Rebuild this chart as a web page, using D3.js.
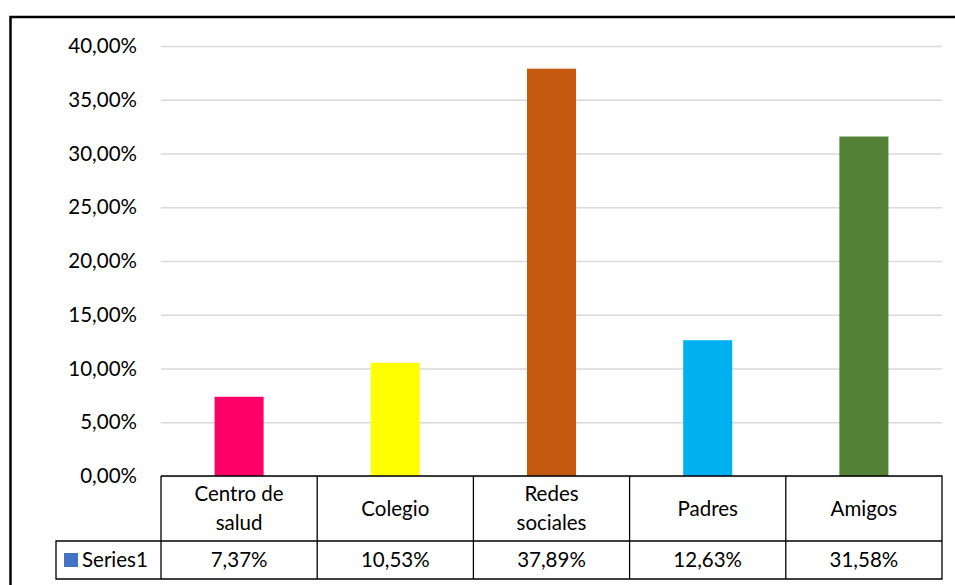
<!DOCTYPE html>
<html lang="es">
	<head>
		<meta charset="UTF-8">
		<title>Fuentes de información</title>
		<script src="https://cdnjs.cloudflare.com/ajax/libs/d3/7.8.5/d3.min.js"></script>
		<style>
			body {margin: 0; background: #fff;}
			svg text {font-family: Lato, "Open Sans", sans-serif; fill: #000;}
		</style>
		<script>
var categories = [["Centro de", "salud"], ["Colegio"], ["Redes", "sociales"], ["Padres"], ["Amigos"]];
var values = [0.0737, 0.1053, 0.3789, 0.1263, 0.3158];
var valueLabels = ["7,37%", "10,53%", "37,89%", "12,63%", "31,58%"];
var barColors = ["#FF0066", "#FFFF00", "#C55A11", "#00B0F0", "#538135"];
var yTicks = [0, 0.05, 0.10, 0.15, 0.20, 0.25, 0.30, 0.35, 0.40];
var seriesName = "Series1";

function makeChart() {
	var svg = d3.select("#chart").attr("width", 955).attr("height", 585);

	var left = 161, right = 942, top = 46, base = 476;
	var rowSplit = 541, rowBottom = 579, legendLeft = 56;
	var fs = "20.5px";

	var es = d3.formatLocale({decimal: ",", thousands: ".", grouping: [3], currency: ["", "€"]});
	var fmt = es.format(".2%");

	var x = d3.scaleBand()
		.domain(d3.range(categories.length))
		.range([left, right])
		.paddingInner(0.686)
		.paddingOuter(0.343);

	var y = d3.scaleLinear().domain([0, 0.40]).range([base, top]);

	// outer frame (only top and left edges show in the picture)
	svg.append("path")
		.attr("d", "M10.5,1000V17H1000")
		.attr("fill", "none").attr("stroke", "#000").attr("stroke-width", 2.5);

	// gridlines + labels via axis
	var yAxis = d3.axisLeft(y).tickValues(yTicks).tickFormat(fmt).tickSize(-(right - left)).tickPadding(24);
	var g = svg.append("g").attr("transform", "translate(" + left + ",0)").call(yAxis);
	g.select(".domain").remove();
	g.selectAll(".tick line").attr("stroke", "#D9D9D9").attr("stroke-width", 1.5);
	g.selectAll(".tick text").style("font-size", fs).attr("fill", "#000");

	svg.selectAll("rect.bar")
		.data(values)
		.join("rect")
		.attr("class", "bar")
		.attr("x", function(d, i) {return x(i);})
		.attr("y", function(d) {return y(d);})
		.attr("width", x.bandwidth())
		.attr("height", function(d) {return base - y(d);})
		.attr("fill", function(d, i) {return barColors[i];});

	// data table
	var step = x.step();
	var tbl = svg.append("g").attr("stroke", "#000").attr("stroke-width", 1.3).attr("fill", "none");
	tbl.append("path").attr("d", "M" + left + "," + base + "H" + right + "V" + rowBottom + "H" + legendLeft + "V" + rowSplit + "H" + right);
	for (var i = 0; i < categories.length; i++) {
		var cx = left + i * step;
		tbl.append("line").attr("x1", cx).attr("x2", cx).attr("y1", base).attr("y2", rowBottom);
	}

	svg.selectAll("text.cat")
		.data(categories)
		.join("text")
		.attr("class", "cat")
		.attr("text-anchor", "middle")
		.style("font-size", fs)
		.attr("x", function(d, i) {return x(i) + x.bandwidth() / 2;})
		.attr("y", function(d) {return (base + rowSplit) / 2 - (d.length - 1) * 14.5;})
		.each(function(d) {
			var t = d3.select(this);
			d.forEach(function(line, j) {
				t.append("tspan").attr("x", t.attr("x")).attr("dy", j === 0 ? "0.35em" : 29).text(line);
			});
		});

	svg.selectAll("text.val")
		.data(valueLabels)
		.join("text")
		.attr("class", "val")
		.attr("text-anchor", "middle")
		.style("font-size", fs)
		.attr("x", function(d, i) {return x(i) + x.bandwidth() / 2;})
		.attr("y", (rowSplit + rowBottom) / 2)
		.attr("dy", "0.35em")
		.text(function(d) {return d;});

	// legend key
	svg.append("rect").attr("x", 64).attr("y", 553).attr("width", 14).attr("height", 14).attr("fill", "#4472C4");
	svg.append("text").attr("x", 82).attr("y", (rowSplit + rowBottom) / 2).attr("dy", "0.35em")
		.style("font-size", fs).text(seriesName);
}
		</script>
	</head>
	<body onload="makeChart()">
		<svg id="chart"></svg>
	</body>
</html>
